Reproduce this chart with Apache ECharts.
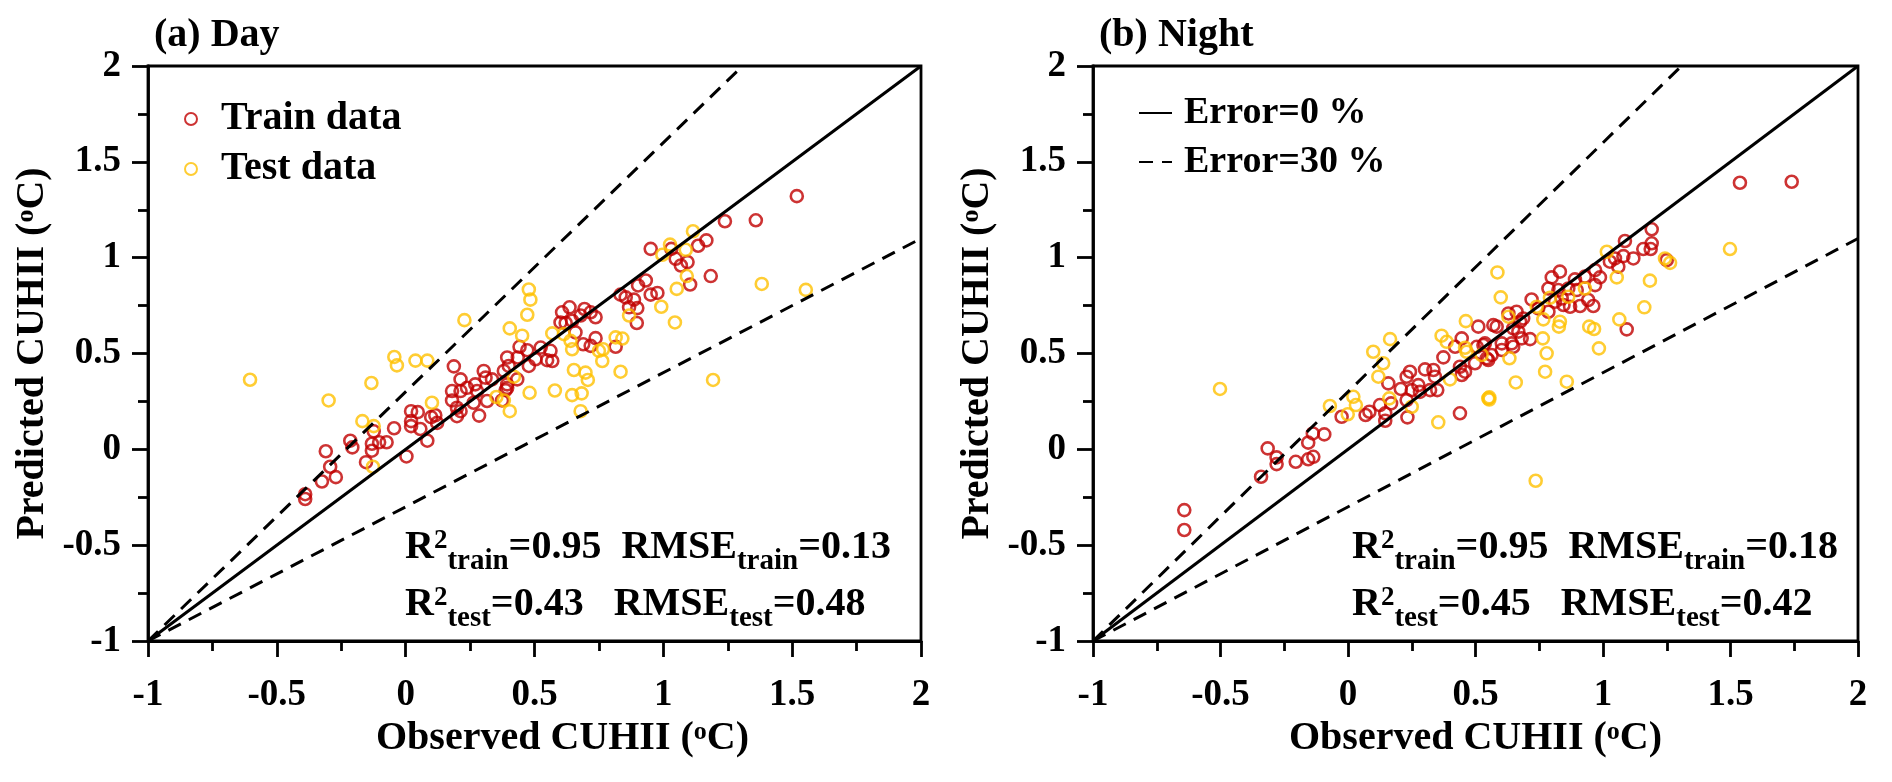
<!DOCTYPE html>
<html>
<head>
<meta charset="utf-8">
<script src="https://cdn.jsdelivr.net/npm/echarts@6/dist/echarts.min.js"></script>
<style>
  html, body { margin: 0; padding: 0; background: #fff; }
  #chart { width: 1892px; height: 782px; }
</style>
</head>
<body>
<div id="chart"></div>
<script>
// observed vs predicted CUHII
const dayTrain = [
  [-0.39,-0.234],[-0.39,-0.259],[-0.325,-0.168],[-0.271,-0.145],[-0.293,-0.091],[-0.31,-0.01],
  [-0.215,0.045],[-0.207,0.01],[-0.154,-0.067],[-0.131,-0.007],[-0.131,0.029],[-0.103,0.037],
  [-0.074,0.037],[-0.124,0.094],[-0.045,0.11],[0.003,-0.037],[0.084,0.045],[0.057,0.106],
  [0.021,0.147],[0.021,0.121],[0.021,0.199],[0.047,0.194],[0.099,0.168],[0.115,0.178],
  [0.122,0.138],[0.187,0.433],[0.213,0.365],[0.18,0.304],[0.213,0.304],[0.18,0.255],
  [0.199,0.217],[0.213,0.199],[0.199,0.173],[0.238,0.321],[0.27,0.339],[0.277,0.304],
  [0.303,0.409],[0.31,0.374],[0.335,0.365],[0.264,0.243],[0.285,0.176],[0.316,0.252],
  [0.381,0.409],[0.394,0.479],[0.394,0.321],
  [1.518,1.321],[1.359,1.195],[1.239,1.19],[1.167,1.09],[1.135,1.062],[0.951,1.046],
  [1.031,1.046],[1.048,0.994],[1.094,0.977],[1.068,0.959],[1.184,0.904],[1.104,0.86],
  [0.932,0.881],[0.902,0.855],[0.977,0.816],[0.951,0.807],[0.834,0.807],[0.854,0.793],
  [0.886,0.781],[0.867,0.741],[0.899,0.737],[0.897,0.659],[0.636,0.741],[0.607,0.715],
  [0.694,0.732],[0.718,0.715],[0.679,0.698],[0.737,0.689],[0.601,0.662],[0.621,0.659],
  [0.646,0.671],[0.659,0.61],[0.689,0.548],[0.718,0.54],[0.737,0.58],[0.815,0.535],
  [0.562,0.514],[0.569,0.461],[0.549,0.465],[0.524,0.531],[0.504,0.47],[0.472,0.517],
  [0.442,0.535],[0.435,0.479],[0.478,0.435],[0.4,0.435],[0.433,0.365],[0.394,0.339],
  [0.388,0.309],[0.374,0.255]
];
const dayTest = [
  [-0.604,0.363],[-0.299,0.255],[-0.133,0.346],[-0.044,0.482],[-0.034,0.438],[0.038,0.463],
  [0.084,0.463],[0.228,0.674],[0.102,0.243],[-0.168,0.147],[-0.124,0.121],[-0.127,-0.091],
  [0.404,0.631],[0.352,0.273],[0.381,0.255],[0.404,0.199],[0.42,0.379],
  [1.115,1.138],[1.026,1.068],[0.996,1.015],[1.087,1.041],[1.091,0.904],[1.052,0.837],
  [1.382,0.863],[1.553,0.832],[0.992,0.744],[0.867,0.698],[1.045,0.662],[1.193,0.362],
  [0.478,0.834],[0.484,0.781],[0.472,0.702],[0.452,0.593],[0.569,0.605],[0.614,0.601],
  [0.64,0.566],[0.646,0.522],[0.815,0.584],[0.841,0.578],[0.75,0.514],[0.766,0.522],
  [0.763,0.461],[0.653,0.414],[0.698,0.4],[0.707,0.362],[0.834,0.405],[0.481,0.295],
  [0.579,0.307],[0.646,0.283],[0.683,0.292],[0.679,0.199]
];
const nightTrain = [
  [-0.642,-0.317],[-0.642,-0.421],[-0.341,-0.143],[-0.315,0.005],[-0.28,-0.042],[-0.28,-0.077],
  [-0.205,-0.065],[-0.156,-0.052],[-0.136,-0.039],[-0.156,0.035],[-0.138,0.083],[-0.093,0.078],
  [-0.025,0.17],[0.069,0.179],[0.084,0.196],[0.125,0.231],[0.146,0.188],[0.146,0.149],
  [0.169,0.24],[0.158,0.344],[0.207,0.315],[0.23,0.379],[0.243,0.405],[0.23,0.257],
  [0.233,0.167],[0.25,0.309],[0.276,0.335],[0.282,0.3],[0.302,0.417],[0.322,0.309],
  [0.335,0.414],[0.341,0.379],[0.35,0.309],[0.374,0.48],[0.42,0.535],[0.446,0.579],
  [0.439,0.431],[0.446,0.388],[0.459,0.405],[0.439,0.188],[0.498,0.449],[0.511,0.64],
  [0.505,0.535],[0.531,0.544],[0.55,0.466],
  [1.537,1.391],[1.74,1.396],[1.191,1.148],[1.191,1.075],[1.187,1.045],[1.158,1.045],
  [1.086,1.087],[1.119,0.996],[1.08,1.008],[1.047,0.996],[1.027,0.979],[1.06,0.953],
  [1.25,0.987],[0.969,0.935],[0.988,0.897],[0.969,0.857],[0.929,0.901],[0.89,0.887],
  [0.831,0.927],[0.799,0.897],[0.786,0.839],[0.825,0.831],[0.864,0.839],[0.897,0.831],
  [0.942,0.779],[0.962,0.748],[0.91,0.748],[0.871,0.744],[0.845,0.753],[0.838,0.787],
  [0.812,0.77],[0.786,0.718],[0.72,0.782],[0.746,0.735],[1.093,0.626],[0.687,0.683],
  [0.661,0.718],[0.629,0.709],[0.675,0.666],[0.57,0.648],[0.583,0.64],[0.648,0.631],
  [0.668,0.614],[0.714,0.575],[0.681,0.579],[0.642,0.553],[0.603,0.553],[0.603,0.518],
  [0.648,0.535],[0.537,0.553],[0.563,0.492],[0.544,0.475]
];
const nightTest = [
  [-0.502,0.315],[-0.071,0.226],[-0.001,0.183],[0.021,0.274],[0.031,0.231],[0.099,0.509],
  [0.119,0.379],[0.138,0.449],[0.165,0.575],[0.162,0.266],[0.25,0.222],[0.354,0.141],
  [0.367,0.593],[0.387,0.561],[0.4,0.365],[0.462,0.669],[0.459,0.53],[0.465,0.509],
  [0.524,0.492],[0.55,0.266],
  [1.498,1.045],[1.015,1.031],[1.243,0.996],[1.263,0.973],[1.054,0.897],[1.184,0.88],
  [0.929,0.839],[0.586,0.923],[0.599,0.793],[0.792,0.791],[0.864,0.796],[0.74,0.744],
  [0.629,0.692],[0.766,0.678],[0.831,0.666],[0.827,0.64],[1.162,0.741],[1.064,0.678],
  [0.946,0.64],[0.965,0.628],[0.764,0.579],[0.984,0.527],[0.779,0.501],[0.633,0.475],
  [0.773,0.405],[0.658,0.349],[0.858,0.353],[0.554,0.26],[0.554,0.271],[0.736,-0.164]
];

// reference lines (end points)
const lineZero = [[-1, -1], [2, 2]];
const lineUpper30 = [[-1, -1], [1.3077, 2]];
const lineLower30 = [[-1, -1], [2, 1.1]];

const axisRange = [-1, 2];
const axisStep = 0.5;
const panelNames = ['(a) Day', '(b) Night'];
const statsDay = { r2Train: '0.95', rmseTrain: '0.13', r2Test: '0.43', rmseTest: '0.48' };
const statsNight = { r2Train: '0.95', rmseTrain: '0.18', r2Test: '0.45', rmseTest: '0.42' };

const FONT = 'Liberation Serif';
const RED = '#C00000';
const GOLD = '#FFC000';

const richName = {
  n: { fontFamily: FONT, fontWeight: 'bold', fontSize: 40, color: '#000', lineHeight: 46, verticalAlign: 'top' },
  s: { fontFamily: FONT, fontWeight: 'bold', fontSize: 26, color: '#000', lineHeight: 28, verticalAlign: 'top' }
};
const richStats = {
  m: { fontFamily: FONT, fontWeight: 'bold', fontSize: 40, color: '#000', lineHeight: 42, verticalAlign: 'top' },
  sp: { fontFamily: FONT, fontWeight: 'bold', fontSize: 27, color: '#000', lineHeight: 27, verticalAlign: 'top' },
  sb: { fontFamily: FONT, fontWeight: 'bold', fontSize: 29, color: '#000', lineHeight: 29, verticalAlign: 'top', padding: [19, 0, 0, 0] }
};

const makeAxis = (gridIndex, isX, namePad) => ({
  type: 'value',
  gridIndex: gridIndex,
  min: axisRange[0],
  max: axisRange[1],
  interval: axisStep,
  name: isX ? '{n|Observed CUHII (}{s|o}{n|C)}' : '{n|Predicted CUHII (}{s|o}{n|C)}',
  nameLocation: 'middle',
  nameGap: isX ? 74 : 89,
  nameTextStyle: { rich: richName, padding: namePad || 0 },
  axisLine: { show: true, onZero: false, lineStyle: { color: '#000', width: 2.8 } },
  axisTick: { show: true, inside: false, length: 16, lineStyle: { color: '#000', width: 2.8 } },
  minorTick: { show: true, splitNumber: 2, length: 10, lineStyle: { color: '#000', width: 2.8 } },
  splitLine: { show: false },
  minorSplitLine: { show: false },
  axisLabel: {
    color: '#000', fontFamily: FONT, fontWeight: 'bold', fontSize: 37,
    margin: isX ? 36 : 27
  }
});

const scatter = (name, data, color, idx) => ({
  name: name,
  type: 'scatter',
  xAxisIndex: idx,
  yAxisIndex: idx,
  data: data,
  symbol: 'circle',
  symbolSize: 12,
  itemStyle: { color: 'rgba(0,0,0,0)', borderColor: color, borderWidth: 2.6 },
  z: 2
});

const refLine = (name, data, dashed, idx) => ({
  name: name,
  type: 'line',
  xAxisIndex: idx,
  yAxisIndex: idx,
  data: data,
  symbol: 'none',
  silent: true,
  lineStyle: { color: '#000', width: 3, type: dashed ? [14, 9] : 'solid' },
  itemStyle: { color: '#000' },
  z: 3
});

const statLine = (key, v1, v2, gap) =>
  '{m|R}{sp|2}{sb|' + key + '}{m|=' + v1 + gap + 'RMSE}{sb|' + key + '}{m|=' + v2 + '}';

const statTitles = (left, s) => [
  { left: left, top: 528, padding: 0, text: statLine('train', s.r2Train, s.rmseTrain, '  '), textStyle: { rich: richStats } },
  { left: left, top: 585, padding: 0, text: statLine('test', s.r2Test, s.rmseTest, '   '), textStyle: { rich: richStats } }
];

const chart = echarts.init(document.getElementById('chart'));

const option = {
  backgroundColor: '#fff',
  animation: false,
  title: [
    { text: panelNames[0], left: 154, top: 16, padding: 0, textStyle: { fontFamily: FONT, fontWeight: 'bold', fontSize: 40, color: '#000' } },
    { text: panelNames[1], left: 1099, top: 16, padding: 0, textStyle: { fontFamily: FONT, fontWeight: 'bold', fontSize: 40, color: '#000' } }
  ].concat(statTitles(405, statsDay), statTitles(1352, statsNight)),
  legend: [
    {
      data: ['Train data', 'Test data'],
      left: 179, top: 93, orient: 'vertical', itemWidth: 12, itemHeight: 12, itemGap: 8,
      selectedMode: false,
      textStyle: { fontFamily: FONT, fontWeight: 'bold', fontSize: 40, color: '#000', lineHeight: 42, padding: [0, 0, 0, 19] }
    },
    {
      data: ['Error=0 %', 'Error=30 %'],
      left: 1133, top: 88, orient: 'vertical', itemWidth: 33, itemHeight: 14, itemGap: 9,
      selectedMode: false,
      itemStyle: { opacity: 0 },
      textStyle: { fontFamily: FONT, fontWeight: 'bold', fontSize: 38, color: '#000', lineHeight: 40, padding: [0, 0, 0, 7] }
    }
  ],
  grid: [
    { left: 148, top: 66, width: 773, height: 575, show: true, borderColor: '#000', borderWidth: 2.8, backgroundColor: 'transparent' },
    { left: 1093, top: 66, width: 765, height: 575, show: true, borderColor: '#000', borderWidth: 2.8, backgroundColor: 'transparent' }
  ],
  xAxis: [makeAxis(0, true, [0, 0, 0, 56]), makeAxis(1, true)],
  yAxis: [makeAxis(0, false), makeAxis(1, false)],
  series: [
    scatter('Train data', dayTrain, RED, 0),
    scatter('Test data', dayTest, GOLD, 0),
    refLine('Error=0 %', lineZero, false, 0),
    refLine('Error=30 %', lineUpper30, true, 0),
    refLine('Error=30 %', lineLower30, true, 0),
    scatter('Train data', nightTrain, RED, 1),
    scatter('Test data', nightTest, GOLD, 1),
    refLine('Error=0 %', lineZero, false, 1),
    refLine('Error=30 %', lineUpper30, true, 1),
    refLine('Error=30 %', lineLower30, true, 1)
  ]
};

chart.setOption(option);
</script>
</body>
</html>
